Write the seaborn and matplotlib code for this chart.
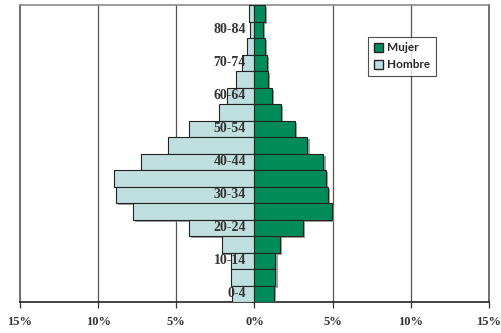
import matplotlib
matplotlib.use("Agg")
import matplotlib.pyplot as plt
import matplotlib.patheffects as pe
from matplotlib.patches import Patch
import seaborn as sns
import pandas as pd

# Age groups from oldest (top) to youngest (bottom)
age_groups = ["85+", "80-84", "75-79", "70-74", "65-69", "60-64", "55-59", "50-54",
              "45-49", "40-44", "35-39", "30-34", "25-29", "20-24", "15-19",
              "10-14", "5-9", "0-4"]
# Share of total population (%)
hombre = [0.32, 0.26, 0.47, 0.79, 1.20, 1.79, 2.28, 4.22,
          5.55, 7.25, 9.00, 8.85, 7.76, 4.20, 2.07, 1.49, 1.49, 1.45]
mujer = [0.64, 0.53, 0.68, 0.79, 0.85, 1.13, 1.71, 2.56,
         3.39, 4.41, 4.59, 4.69, 4.97, 3.09, 1.60, 1.34, 1.34, 1.22]
labelled_groups = ["80-84", "70-74", "60-64", "50-54", "40-44",
                   "30-34", "20-24", "10-14", "0-4"]
tick_values = [-15, -10, -5, 0, 5, 10, 15]
tick_labels = ["15%", "10%", "5%", "0%", "5%", "10%", "15%"]

col_hombre = "#bfe0df"
col_mujer = "#008c5a"

df = pd.DataFrame({"edad": age_groups, "Hombre": [-v for v in hombre], "Mujer": mujer})

sns.set_style("white")
fig = plt.figure(figsize=(5.02, 3.33), dpi=100)
ax = fig.add_axes([20 / 502, 31 / 333, 469 / 502, 297 / 333])

shadow = [pe.SimplePatchShadow(offset=(1.5, -1.5), shadow_rgbFace="#8a8a8a", alpha=0.8),
          pe.Normal()]

sns.barplot(data=df, x="Hombre", y="edad", order=age_groups, orient="h",
            color=col_hombre, saturation=1, width=1.0, edgecolor="#222222",
            linewidth=0.8, ax=ax, zorder=3)
sns.barplot(data=df, x="Mujer", y="edad", order=age_groups, orient="h",
            color=col_mujer, saturation=1, width=1.0, edgecolor="#222222",
            linewidth=0.8, ax=ax, zorder=3)
for p in ax.patches:
    p.set_path_effects(shadow)

# vertical reference lines
for v in [-10, -5, 5, 10]:
    ax.axvline(v, color="#555555", lw=0.9, zorder=1)

ax.set_xlim(-15, 15)
ax.set_ylim(len(age_groups) - 0.5, -0.5)
ax.set_xticks(tick_values)
ax.set_xticklabels(tick_labels, fontfamily="Liberation Serif", fontweight="bold",
                   fontsize=9, color="#333333")
ax.tick_params(axis="x", direction="out", length=4, width=0.9, color="#333333", pad=6,
               bottom=True)
ax.set_yticks([])
ax.set_xlabel("")
ax.set_ylabel("")

for name, sp in ax.spines.items():
    sp.set_visible(True)
ax.spines["top"].set_color("#8a8a8a")
ax.spines["left"].set_color("#555555")
ax.spines["right"].set_color("#555555")
ax.spines["bottom"].set_color("#222222")
for sp in ax.spines.values():
    sp.set_linewidth(1.2)

# small marks on the zero line at each group boundary
for b in range(len(age_groups) + 1):
    ax.plot([-0.2, 0], [b - 0.5, b - 0.5], color="#333333", lw=0.8, zorder=4,
            solid_capstyle="butt", clip_on=False)

# age labels inside, just left of zero
for i, g in enumerate(age_groups):
    if g in labelled_groups:
        ax.text(-0.55, i, g, ha="right", va="center", fontsize=10,
                fontfamily="Liberation Serif", fontweight="bold", color="#333333",
                zorder=5)

handles = [Patch(facecolor=col_mujer, edgecolor="#222222", label="Mujer"),
           Patch(facecolor=col_hombre, edgecolor="#222222", label="Hombre")]
leg = ax.legend(handles=handles, loc="upper left", bbox_to_anchor=(0.730, 0.912),
                frameon=True, fancybox=False, handlelength=0.8, handleheight=0.8,
                handletextpad=0.35, borderpad=0.45, labelspacing=0.5,
                prop={"family": "Lato", "weight": "bold", "size": 8.5})
leg.get_frame().set_edgecolor("#222222")
leg.get_frame().set_linewidth(0.8)
leg.set_zorder(6)

fig.savefig("out.png", dpi=100)
